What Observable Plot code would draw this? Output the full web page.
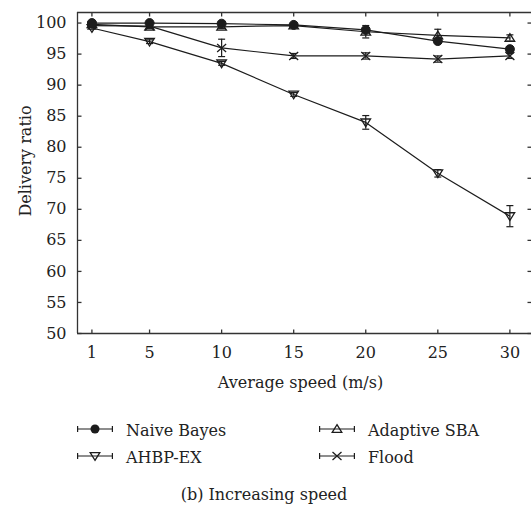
<!DOCTYPE html>
<html><head><meta charset="utf-8">
<script src="https://cdn.jsdelivr.net/npm/d3@7"></script>
<script src="https://cdn.jsdelivr.net/npm/@observablehq/plot@0.6"></script>
<style>
body{margin:0;background:#fff;font-family:"DejaVu Serif","Liberation Serif",serif;color:#222}
#wrap{position:relative;width:531px;height:508px;overflow:hidden}
#chart{position:absolute;left:0;top:0}
#chart svg text{font-family:"DejaVu Serif","Liberation Serif",serif}
.lg{position:absolute;font-size:16px;line-height:18px;white-space:nowrap}
.lgsym{position:absolute}
#caption{position:absolute;left:0;width:528px;top:484px;text-align:center;font-size:16px;line-height:22px}
</style></head><body>
<div id="wrap"><div id="chart"></div><div id="legend"></div><div id="caption">(b) Increasing speed</div></div>
<script>
// ---- data ----
const speeds = [1, 5, 10, 15, 20, 25, 30];
const seriesNames = ["Naive Bayes", "Adaptive SBA", "AHBP-EX", "Flood"];
const naiveBayes  = [100.0, 100.0, 99.9, 99.7, 98.9, 97.1, 95.8];
const naiveErr    = [0.2, 0.2, 0.2, 0.2, 0.3, 0.3, 0.4];
const adaptiveSBA = [99.8, 99.4, 99.4, 99.6, 98.6, 98.0, 97.6];
const sbaErr      = [0.2, 0.3, 0.3, 0.2, 1.0, 1.0, 0.5];
const ahbpEx      = [99.2, 97.0, 93.5, 88.5, 84.0, 75.8, 68.9];
const ahbpErr     = [0.2, 0.3, 0.3, 0.3, 1.1, 0.6, 1.7];
const flood       = [99.6, 99.5, 96.0, 94.7, 94.7, 94.2, 94.7];
const floodErr    = [0.2, 0.2, 1.4, 0.4, 0.5, 0.5, 0.4];
const xTicks = [1, 5, 10, 15, 20, 25, 30];
const yTicks = [50, 55, 60, 65, 70, 75, 80, 85, 90, 95, 100];
const xLabel = "Average speed (m/s)";
const yLabel = "Delivery ratio";

// ---- build table ----
const values = {"Naive Bayes": naiveBayes, "Adaptive SBA": adaptiveSBA, "AHBP-EX": ahbpEx, "Flood": flood};
const errs = {"Naive Bayes": naiveErr, "Adaptive SBA": sbaErr, "AHBP-EX": ahbpErr, "Flood": floodErr};
const drawOrder = ["Flood", "AHBP-EX", "Adaptive SBA", "Naive Bayes"];
const rows = [];
for (const name of drawOrder) speeds.forEach((s, i) => rows.push({
  series: name, speed: s, value: values[name][i],
  lo: values[name][i] - errs[name][i], hi: values[name][i] + errs[name][i]
}));

// ---- symbols ----
const sc = (size) => Math.sqrt(size / Math.PI) / 4.5;
const triUp = {draw(c, size){const k=sc(size); c.moveTo(0,-4.3*k); c.lineTo(4.8*k,3.4*k); c.lineTo(-4.8*k,3.4*k); c.closePath();}};
const triDown = {draw(c, size){const k=sc(size); c.moveTo(0,4.3*k); c.lineTo(4.8*k,-3.4*k); c.lineTo(-4.8*k,-3.4*k); c.closePath();}};
const cross = {draw(c, size){const k=sc(size); c.moveTo(-4.5*k,-4*k); c.lineTo(4.5*k,4*k); c.moveTo(-4.5*k,4*k); c.lineTo(4.5*k,-4*k);}};
const cap = {draw(c){c.moveTo(-3.5,0); c.lineTo(3.5,0);}};
const tk = (dx, dy) => ({draw(c){c.moveTo(0,0); c.lineTo(dx,dy);}});
const symbolOf = {"Naive Bayes": "circle", "Adaptive SBA": triUp, "AHBP-EX": triDown, "Flood": cross};

const ink = "#1c1c1c";
const xDomain = [0, 31.5];
const yDomain = [50, 101.7];
const font = '"DejaVu Serif","Liberation Serif",serif';

const markMarks = drawOrder.map(name => Plot.dot(rows.filter(d => d.series === name), {
  x: "speed", y: "value", r: 4.5,
  symbol: () => symbolOf[name],
  fill: name === "Naive Bayes" ? ink : "none",
  stroke: ink, strokeWidth: name === "Naive Bayes" ? 1 : 1.3
}));

const chart = Plot.plot({
  width: 531, height: 395,
  marginLeft: 77, marginRight: 0, marginTop: 12, marginBottom: 62,
  style: {fontFamily: font, fontSize: "16px", color: "#222", background: "white", overflow: "visible"},
  x: {domain: xDomain},
  y: {domain: yDomain},
  marks: [
    Plot.ruleX([xDomain[0]], {stroke: "#333", strokeWidth: 1.3}),
    Plot.ruleY([yDomain[0], yDomain[1]], {stroke: "#333", strokeWidth: 1.3}),
    Plot.dot(xTicks, {x: d => d, frameAnchor: "bottom", symbol: tk(0, -4), stroke: "#333", strokeWidth: 1.3, fill: "none"}),
    Plot.dot(xTicks, {x: d => d, frameAnchor: "top", symbol: tk(0, 4), stroke: "#333", strokeWidth: 1.3, fill: "none"}),
    Plot.dot(yTicks, {y: d => d, frameAnchor: "left", symbol: tk(4, 0), stroke: "#333", strokeWidth: 1.3, fill: "none"}),
    Plot.dot(yTicks, {y: d => d, frameAnchor: "right", symbol: tk(-4, 0), stroke: "#333", strokeWidth: 1.3, fill: "none"}),
    Plot.axisX({ticks: xTicks, tickSize: 0, tickPadding: 13, tickFormat: d => String(d), label: null, fontSize: 16, fontFamily: font}),
    Plot.axisY({ticks: yTicks, tickSize: 0, tickPadding: 11, tickFormat: d => String(d), label: null, fontSize: 16, fontFamily: font}),
    Plot.text([yLabel], {frameAnchor: "left", textAnchor: "middle", rotate: -90, dx: -52, dy: -12, fontSize: 16, fontFamily: font, fill: "#222"}),
    Plot.text([xLabel], {frameAnchor: "bottom", dx: -4, dy: 54, fontSize: 16, fontFamily: font, fill: "#222"}),
    Plot.line(rows, {x: "speed", y: "value", z: "series", stroke: ink, strokeWidth: 1.2}),
    Plot.ruleX(rows, {x: "speed", y1: "lo", y2: "hi", stroke: ink, strokeWidth: 1.2}),
    Plot.dot(rows, {x: "speed", y: "lo", symbol: () => cap, stroke: ink, strokeWidth: 1.2, fill: "none"}),
    Plot.dot(rows, {x: "speed", y: "hi", symbol: () => cap, stroke: ink, strokeWidth: 1.2, fill: "none"}),
    ...markMarks
  ]
});
document.getElementById("chart").appendChild(chart);

// ---- legend ----
const legendPos = [
  {name: "Naive Bayes", sx: 77, tx: 126, y: 429},
  {name: "Adaptive SBA", sx: 319, tx: 368, y: 429},
  {name: "AHBP-EX", sx: 77, tx: 126, y: 456},
  {name: "Flood", sx: 319, tx: 368, y: 456}
];
const markerSvg = {
  "Naive Bayes": `<circle cx="18" cy="9" r="4.5" fill="${ink}"/>`,
  "Adaptive SBA": `<path d="M18,4.7L22.8,12.4L13.2,12.4Z" fill="none" stroke="${ink}" stroke-width="1.3"/>`,
  "AHBP-EX": `<path d="M18,13.3L22.8,5.6L13.2,5.6Z" fill="none" stroke="${ink}" stroke-width="1.3"/>`,
  "Flood": `<path d="M13.5,5L22.5,13M13.5,13L22.5,5" fill="none" stroke="${ink}" stroke-width="1.3"/>`
};
const lg = document.getElementById("legend");
for (const p of legendPos) {
  const s = document.createElement("div");
  s.className = "lgsym";
  s.style.left = p.sx + "px"; s.style.top = (p.y - 9) + "px";
  s.innerHTML = `<svg width="36" height="18"><path d="M0.6,9H35.4M0.6,6V12M35.4,6V12" stroke="${ink}" stroke-width="1.2" fill="none"/>${markerSvg[p.name]}</svg>`;
  lg.appendChild(s);
  const t = document.createElement("div");
  t.className = "lg";
  t.style.left = p.tx + "px"; t.style.top = (p.y - 7) + "px";
  t.textContent = p.name;
  lg.appendChild(t);
}
</script>
</body></html>
